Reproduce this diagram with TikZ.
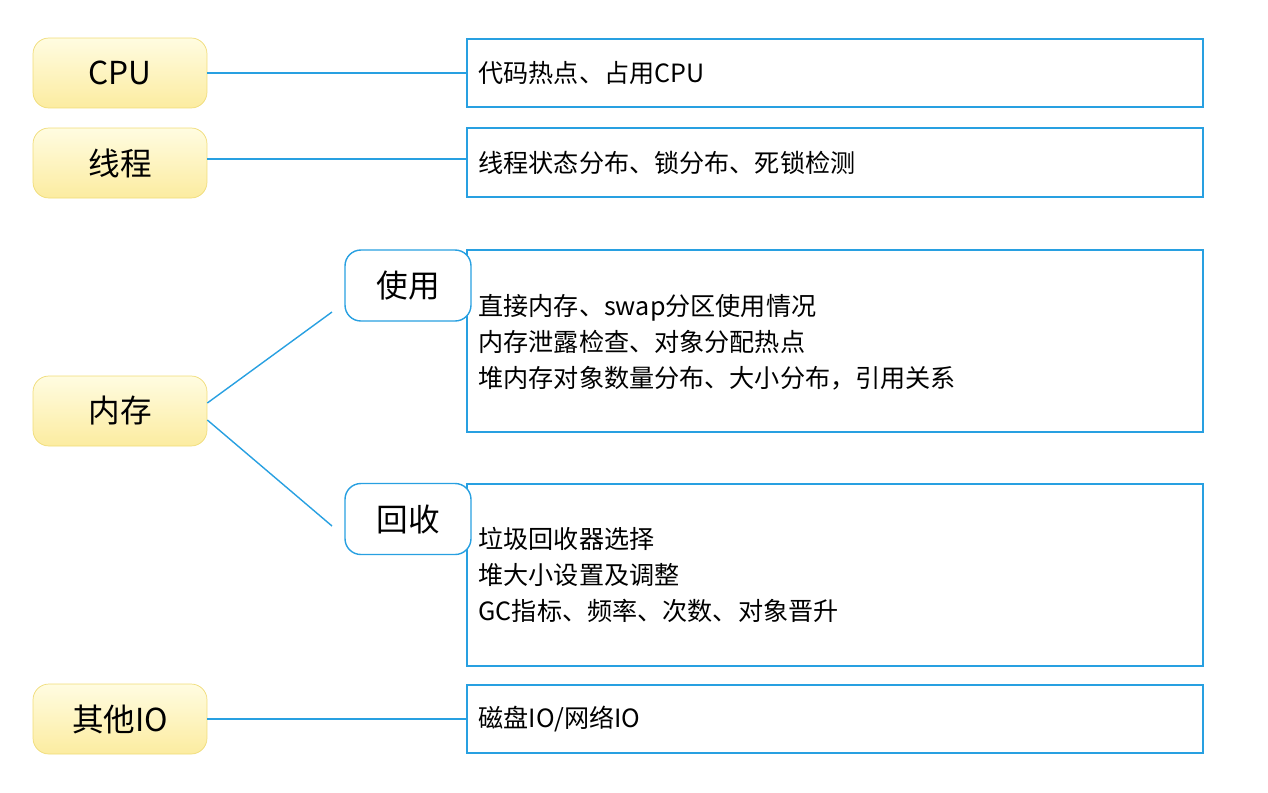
\documentclass[tikz,border=0pt]{standalone}
\usepackage{fontspec}
\setmainfont{Noto Sans CJK SC}
\definecolor{ybord}{RGB}{240,220,120}
\definecolor{ytop}{RGB}{255,252,225}
\definecolor{ybot}{RGB}{252,236,160}
\definecolor{bline}{RGB}{40,160,225}
\begin{document}
\begin{tikzpicture}[x=0.02cm,y=-0.02cm,
    topic/.style={draw=ybord, rounded corners=9pt, top color=ytop, bottom color=ybot, minimum width=3.48cm, minimum height=1.4cm, font=\fontsize{18}{20}\selectfont},
    sub/.style={draw=bline, line width=0.8pt, rounded corners=9pt, fill=white, minimum width=2.52cm, minimum height=1.42cm, font=\fontsize{18}{20}\selectfont},
    info/.style={draw=bline, line width=0.8pt, minimum width=14.72cm, inner sep=0pt},
    txt/.style={anchor=west, align=left, font=\fontsize{14.3}{20.4}\selectfont},
    n/.style={bline, line width=0.8pt}]
    \useasboundingbox (0,0) rectangle (1268,792);
    % topics
    \node[topic] (cpu) at (120,73) {CPU};
    \node[topic] (thr) at (120,163) {线程};
    \node[topic] (mem) at (120,411) {内存};
    \node[topic] (io) at (120,719) {其他IO};
    % info boxes
    \node[info, minimum height=1.36cm] (bcpu) at (835,73) {};
    \node[info, minimum height=1.38cm] (bthr) at (835,162.5) {};
    \node[info, minimum height=3.64cm] (buse) at (835,341) {};
    \node[info, minimum height=3.64cm] (bgc) at (835,575) {};
    \node[info, minimum height=1.36cm] (bio) at (835,719) {};
    % memory branches
    \node[sub] (use) at (408,285.5) {使用};
    \node[sub] (gc) at (408,519) {回收};
    % texts
    \node[txt] (tcpu) at ([xshift=0.12cm]bcpu.west) {代码热点、占用CPU};
    \node[txt] (tthr) at ([xshift=0.12cm]bthr.west) {线程状态分布、锁分布、死锁检测};
    \node[txt] (tuse) at ([xshift=0.12cm,yshift=-0.02cm]buse.west) {直接内存、swap分区使用情况\\内存泄露检查、对象分配热点\\堆内存对象数量分布、大小分布，引用关系};
    \node[txt] (tgc) at ([xshift=0.12cm]bgc.west) {垃圾回收器选择\\堆大小设置及调整\\GC指标、频率、次数、对象晋升};
    \node[txt] (tio) at ([xshift=0.12cm]bio.west) {磁盘IO/网络IO};
    % edges
    \coordinate (ue) at (332,312);
    \coordinate (ge) at (332,526);
    \draw[n] (cpu.east) -- (bcpu.west);
    \draw[n] ([yshift=0.08cm]thr.east) -- ([yshift=0.08cm]bthr.west|-thr.east);
    \draw[n] (io.east) -- (bio.west);
    \draw[n] ([yshift=0.16cm]mem.east) -- (ue);
    \draw[n] ([yshift=-0.18cm]mem.east) -- (ge);
\end{tikzpicture}
\end{document}
